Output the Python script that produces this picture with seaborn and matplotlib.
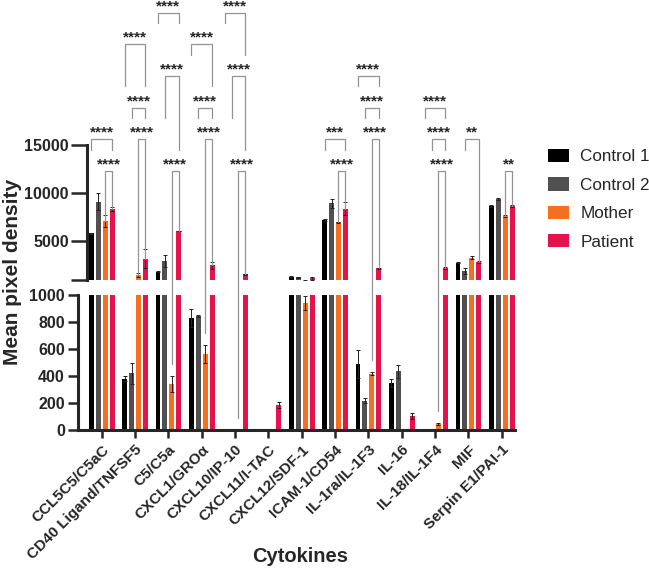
import numpy as np
import pandas as pd
import matplotlib
matplotlib.use("Agg")
import matplotlib.pyplot as plt
from matplotlib.patches import Patch
import seaborn as sns

cytokines = ["CCL5C5/C5aC", "CD40 Ligand/TNFSF5", "C5/C5a", "CXCL1/GROα", "CXCL10/IP-10",
             "CXCL11/I-TAC", "CXCL12/SDF-1", "ICAM-1/CD54", "IL-1ra/IL-1F3", "IL-16",
             "IL-18/IL-1F4", "MIF", "Serpin E1/PAI-1"]
groups = ["Control 1", "Control 2", "Mother", "Patient"]
colors = ["#000000", "#505050", "#F37021", "#E5124B"]

control1 = [5840, 380, 1860, 830, 0, 0, 1340, 7220, 490, 347, 0, 2790, 8700]
control2 = [9120, 420, 2970, 845, 0, 0, 1300, 8950, 218, 434, 0, 1930, 9370]
mother = [7120, 1515, 340, 565, 0, 0, 940, 6980, 416, 5, 45, 3310, 7640]
patient = [8360, 3200, 6080, 2520, 1590, 185, 1200, 8390, 2210, 104, 2270, 2860, 8700]

control1_sd = [60, 20, 30, 65, 0, 0, 30, 150, 105, 30, 0, 60, 100]
control2_sd = [900, 80, 650, 5, 0, 0, 50, 500, 17, 47, 0, 340, 100]
mother_sd = [620, 240, 60, 65, 0, 0, 50, 80, 10, 0, 7, 150, 150]
patient_sd = [250, 1000, 50, 380, 50, 25, 150, 700, 80, 25, 80, 120, 80]

# (cytokine, group a, group b, tier, left leg end, right leg end, label)
brackets = [
    ("CCL5C5/C5aC", 0, 3, 2, 2, 2, "****"),
    ("CCL5C5/C5aC", 2, 3, 1, "bar", "bar", "****"),
    ("CD40 Ligand/TNFSF5", 0, 3, 5, 4, 4, "****"),
    ("CD40 Ligand/TNFSF5", 1, 3, 3, 3, 3, "****"),
    ("CD40 Ligand/TNFSF5", 2, 3, 2, "bar", "bar", "****"),
    ("C5/C5a", 0, 3, 6, 6, 6, "****"),
    ("C5/C5a", 1, 3, 4, 3, 2, "****"),
    ("C5/C5a", 2, 3, 1, "bar", "bar", "****"),
    ("CXCL1/GROα", 0, 3, 5, 5, 4, "****"),
    ("CXCL1/GROα", 1, 3, 3, 3, 3, "****"),
    ("CXCL1/GROα", 2, 3, 2, "bar", "bar", "****"),
    ("CXCL10/IP-10", 0, 3, 6, 6, 5, "****"),
    ("CXCL10/IP-10", 1, 3, 4, 3, 2, "****"),
    ("CXCL10/IP-10", 2, 3, 1, "bar", "bar", "****"),
    ("ICAM-1/CD54", 0, 3, 2, 2, 2, "***"),
    ("ICAM-1/CD54", 2, 3, 1, "bar", "bar", "****"),
    ("IL-1ra/IL-1F3", 0, 3, 4, 4, 4, "****"),
    ("IL-1ra/IL-1F3", 1, 3, 3, 3, 3, "****"),
    ("IL-1ra/IL-1F3", 2, 3, 2, "bar", "bar", "****"),
    ("IL-18/IL-1F4", 0, 3, 3, 3, 3, "****"),
    ("IL-18/IL-1F4", 1, 3, 2, 2, 2, "****"),
    ("IL-18/IL-1F4", 2, 3, 1, "bar", "bar", "****"),
    ("MIF", 1, 3, 2, 2, "bar", "**"),
    ("Serpin E1/PAI-1", 2, 3, 1, "bar", "bar", "**"),
]

vals = [control1, control2, mother, patient]
sds = [control1_sd, control2_sd, mother_sd, patient_sd]

df = pd.DataFrame({
    "cytokine": cytokines * 4,
    "group": [g for g in groups for _ in cytokines],
    "value": control1 + control2 + mother + patient,
})

sns.set_style("ticks")
plt.rcParams["font.family"] = ["Liberation Sans", "DejaVu Sans"]

W, H = 649, 573
fig = plt.figure(figsize=(W / 100, H / 100), dpi=100)


def box(x0, y0, x1, y1):
    return [x0 / W, 1 - y1 / H, (x1 - x0) / W, (y1 - y0) / H]


ax_lo = fig.add_axes(box(78, 295, 515, 430))
ax_up = fig.add_axes(box(78, 0, 515, 280))

bw = 0.83
for ax in (ax_lo, ax_up):
    sns.barplot(data=df, x="cytokine", y="value", hue="group", hue_order=groups,
                palette=colors, saturation=1, width=bw, gap=0.28, errorbar=None,
                legend=False, ax=ax, linewidth=0)
    offs = [(j - 1.5) * bw / 4 for j in range(4)]
    for j in range(4):
        x = np.arange(len(cytokines)) + offs[j]
        m = np.array(sds[j]) > 0
        ax.errorbar(x[m], np.array(vals[j])[m], yerr=np.array(sds[j])[m], fmt="none",
                    ecolor="#222222", elinewidth=0.7, capsize=1.3, capthick=0.7, zorder=3)
    ax.set_xlabel("")
    ax.set_ylabel("")
    ax.set_xlim(-23.7 / 33.33, 12 + 13.3 / 33.33)
    ax.spines["top"].set_visible(False)
    ax.spines["right"].set_visible(False)
    ax.patch.set_alpha(0)

ax_lo.set_ylim(0, 1000)
ax_lo.set_yticks([0, 200, 400, 600, 800, 1000])
ax_lo.set_xticks(range(len(cytokines)))
ax_lo.set_xticklabels(cytokines, rotation=45, ha="right", rotation_mode="anchor",
                      fontweight="bold", fontsize=11)
ax_lo.tick_params(axis="y", length=7.5, width=1.8, labelsize=11.5, pad=2)
ax_lo.tick_params(axis="x", length=6, width=1.8, pad=3)
for s in ("left", "bottom"):
    ax_lo.spines[s].set_linewidth(2.2)

ax_up.set_ylim(1000, 1000 + 14000 * 280 / 135)
ax_up.set_yticks([1000, 5000, 10000, 15000])
ax_up.set_yticklabels(["", "5000", "10000", "15000"])
ax_up.spines["left"].set_bounds(1000, 15000)
ax_up.spines["left"].set_position(("axes", 9 / 437))
ax_up.spines["left"].set_linewidth(2.2)
ax_up.spines["bottom"].set_visible(False)
ax_up.set_xticks([])
ax_up.tick_params(axis="y", length=11.5, width=1.8, labelsize=11.5, pad=1.5)

for ax in (ax_lo, ax_up):
    for lbl in ax.get_yticklabels():
        lbl.set_fontweight("bold")

# significance brackets
up_inv = ax_up.transData.inverted()


def to_up(disp_y):
    return up_inv.transform((0, disp_y))[1]


def tier_disp(k):
    return H - (171 - (k - 1) * 31.7)


def leg_end(i, j, spec):
    if spec == "bar":
        v, e = vals[j][i], sds[j][i]
        if v >= 1000:
            return v
        y = ax_lo.transData.transform((0, v + e))[1] + 12
        return to_up(y)
    return to_up(tier_disp(spec) - 10.5)


offs = [(j - 1.5) * bw / 4 for j in range(4)]
for name, a, b, tier, le, re_, lab in brackets:
    i = cytokines.index(name)
    xa, xb = i + offs[a], i + offs[b]
    yt = to_up(tier_disp(tier))
    ax_up.plot([xa, xa, xb, xb], [leg_end(i, a, le), yt, yt, leg_end(i, b, re_)],
               color="#939393", lw=0.9, clip_on=False, zorder=5, solid_joinstyle="miter")
    ax_up.text((xa + xb) / 2, to_up(tier_disp(tier) + 2.5), lab, ha="center", va="baseline",
               fontsize=11, fontweight="bold", clip_on=False)

fig.text(13 / W, 1 - 272 / H, "Mean pixel density", rotation=90, fontsize=15,
         fontweight="bold", ha="center", va="center")
fig.text(300 / W, 1 - 556 / H, "Cytokines", fontsize=14.5, fontweight="bold",
         ha="center", va="center")

handles = [Patch(facecolor=c, edgecolor="none") for c in colors]
fig.legend(handles, groups, loc="upper left", bbox_to_anchor=(548 / W, 1 - 149 / H),
           frameon=False, fontsize=12.3, handlelength=1.2, handleheight=0.8,
           handletextpad=0.7, labelspacing=0.76, borderaxespad=0, borderpad=0)

fig.savefig("out.png", dpi=100)
